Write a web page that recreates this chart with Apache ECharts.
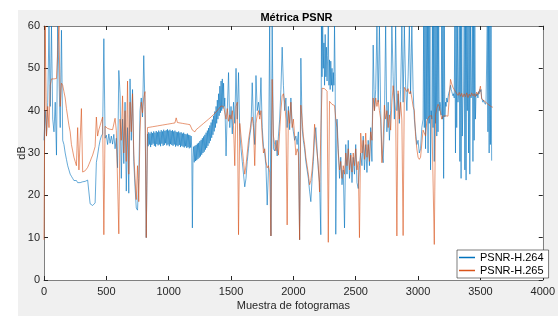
<!DOCTYPE html>
<html>
<head>
<meta charset="utf-8">
<script src="https://cdn.jsdelivr.net/npm/echarts@6/dist/echarts.min.js"></script>
<style>
html,body{margin:0;padding:0;background:#fff;}
#c{width:558px;height:316px;}
</style>
</head>
<body>
<div id="c"></div>
<script>
const xTicks = [0, 500, 1000, 1500, 2000, 2500, 3000, 3500, 4000];
const yTicks = [0, 10, 20, 30, 40, 50, 60];
const seriesNames = ['PSNR-H.264', 'PSNR-H.265'];

// ---------- PSNR-H.264 (dB), read in segments: [first frame, frame step, values] ----------
const h264_a = [33,40,34,42,60,41,60,38,35,42, 29.5,60,60,36,59,33,32,30,28.5,27, 26,25,24.5,24,23.5,23.2,23.5,23,23.3,23, 22.8,23.2,23,23.3,23,23.6,23.8,18,17.6,17.6, 17.8,18.2,27.8,29.5,31.5,33,34,34.5,57,33.5,
  34.2,32,34.5,32.3,34,32.1,34.4,31,33.5,26.5, 49.5,44,24,38,27.5,42,21,36,20.5,47.5, 33,45,28,22,17,16.5,24,40,43,38.5, 53,41,10];
const h264_b = [34.5,31.6,34.9,32.0,34.6,31.4,35.0,31.9,34.7,32.2, 35.1,31.7,34.8,31.5,35.2,32.1,34.9,31.8,35.3,32.0,
  35.0,31.6,35.4,32.2,35.1,31.7,35.5,31.9,35.2,32.3, 35.4,31.8,35.6,32.0,35.3,31.6,35.5,32.1,35.2,31.9,
  35.4,31.7,35.1,32.0,35.3,31.5,35.0,31.8,34.9,31.6, 35.1,31.9,34.8,31.4,34.9,31.7,34.6,31.5,34.8,31.3,
  34.5,31.6,34.4,31.2,34.6,31.4,34.3,31.1,34.2,31.3, 34.0,31.0, 12.3,29.0,
  31.5,27.8,31.7,28.1,31.9,28.3,32.2,28.6,32.4,28.9, 32.8,29.2,33.1,29.6,33.5,30.0,33.9,30.3,34.3,30.8,
  34.8,31.2,35.3,31.7,35.9,32.3,36.5,32.9,37.2,33.6, 37.9,34.3,38.8,35.1,39.8,36.0,41.0,37.0,42.5,38.0,
  44.0,38.8,45.8,39.5,47.0,40.0,47.5,40.5,46.5,41.0];
const h264_c = [43,29.3,40,49,36,
  41,34.5,42,37,50,38,49,35,31,28, 25,22,24,28,31,34,36,46.6,37,32, 48.3,40,42,39,47.8,36,31.6,30,27,17.7,
  26,60,10.4,60,31,30.5,33,29.3,34,38, 45,55,46,40,43,36,41,35.5,43,37,
  35,33,34,32,35,9.5,52.4,36,33,31, 28,26,24,21,18.5,24,28,34,36,31, 26,23];
const h264_d = [10.7,60,48,60,50,56,46,58,48,55, 47,53,60,46,52,45,51.7,46,50,44.5, 49,46,60,48,10.8];
const h264_e = [38,31,24,29,22.5, 26,12.3,32,25,33,24,30,23,29,25,
  32,23,21.6,27,30,27,34,26,32,25.4, 33,27,36,28,55.5,40,45,60,42,60, 40,30,27.7,38,60,35,42,33,40,60,
  48,38,60,40,44,37,45,60,42,60, 46,40,48,60,44,60,45,38,35,32,
  33,30,31,36];
const h264_f = [38,60,36,60,31,60,38,60,30,60, 37,60,26,40,38,60,36,60,28,60, 37,60,34,60,35,60,40,42,41,39,
  60,38,60,24,60,38.5,42,41,43,42, 43,44,44,45,46,45,44.5,44,43.5,44, 43,60,30,60,36,60,42,44,60,28,
  60,24,60,34,43,44,60,26,60,23.6, 60,40,60,30,60,25,60,43,44,60, 28,60,33,60,38,44,43.5,44,43,44.5,
  44,45,44.5,45,43,42.5,42,42.5,42,41.8, 41.5,42,42,60,35,60,30,60,32,60, 28.2];
const h264Segments = [[0, 10, h264_a], [830, 5, h264_b], [1450, 10, h264_c], [2220, 5, h264_d], [2350, 10, h264_e], [3040, 5, h264_f]];

// ---------- PSNR-H.265 (dB), one value every 10 frames, 0..3600 ----------
const h265_0000 = [9.5,60,34,41,36,46,47.5,47.8,47.5,47.8, 47.6,47.2,60,41,46.5,46,44.5,43,40.5,38.5, 36.5,35,32,30.5,29,28,27,36,26,25.7, 40.5,25.5,25.6,25.8,26.2,26.6,27.3,28,28.8,29.5, 30.5,31.5,38.5,34,35.5,36.5,37.5,38.5,10.7,36.3];
const h265_0500 = [36,35.8,36.2,35.6,35.9,35.5,35.8,38.2,35.3,35, 10.9,38,33,43.5,30,40,28,47,25,42, 35,44,30,24,19,27,18.5,35,42,39.5, 43,44.5,10,36.0,36.3,36.1,36.4,36.2,36.5,36.3, 36.6,36.4,36.7,36.5,36.8,36.6,36.9,36.7,37.0,36.8];
const h265_1000 = [37.1,36.9,37.2,37.0,37.3,37.1,38.3,37.2,37.4,37.1, 37.3,37.0,37.2,36.9,37.1,36.8,37.0,36.7,36.6,35.4, 35.2,35.0,35.5,35.6,36.0,36.1,36.5,36.6,37.0,37.1, 37.5,37.6,38.0,38.2,38.5,38.7,39.1,39.3,39.7,39.9, 40.4,40.6,41.1,41.3,41.0,41,38,40.5,37.5,39];
const h265_1500 = [38,40,36.5,27,41,42,10.7,37,34,31, 28,25,27,30,33,35,37,38.5,36,27, 37,39,40,38,40,34,30,31,28,26.5, 27,25.5,10.4,47.4,34,32,30.5,33,29.5,35, 40,43.5,44,42,38,13,40,37,42,36];
const h265_2000 = [38,34,29.5,31,30,9.5,41.3,38,34,32, 29,27,25,22.5,23.5,26,30,36.8,33,30, 27,20.8,35,45.3,45.0,45.2,44.8,44.6,8.9,42.2, 41.8,41.5,41.6,41.2,38,36,30,26,28,24, 27,25,30,27,31,26,29.5,25.5,30,27];
const h265_2500 = [31,26,28,10,34.7,30,33,28.5,34.7,29, 32,28,35,33,43,40,43,41,42.5,40, 38,27.7,33,41.3,38,40,36,39,35.4,42, 45.9,43,40,10.4,44.7,38,42,37.8,10.5,45.5, 45,44.5,45.2,44,44.6,43,41,40,33.9,31];
const h265_3000 = [29,28.5,29,28.8,35.4,35,34,37.5,38.2,38.7, 38.4,38.8,38.5,8.4,39,40.5,41.5,41,39.5,38, 38.7,38.5,38.8,38.6,38.7,39,47.4,46.3,45.5,45, 44.5,44.2,43.6,44.3,43.4,44.1,43.2,44,43.3,44.2, 43.1,43.9,43.4,44.2,43.5,44,43.3,44.4,43.8,44.5];
const h265_3500 = [45.8,42.8,42.6,42.3,42.2,41.8,41.6,41.3,41.1,40.9,40.8];
const h265Segments = [[0, 10, [].concat(h265_0000, h265_0500, h265_1000, h265_1500, h265_2000, h265_2500, h265_3000, h265_3500)]];

function toPoints(segments) {
  const out = [];
  segments.forEach(([start, step, vals]) => vals.forEach((v, i) => out.push([start + i * step, v])));
  return out;
}

const font = 'Liberation Sans, Arial, Helvetica, sans-serif';
const axisColor = '#808080';
const textColor = '#262626';

const chart = echarts.init(document.getElementById('c'), null, {renderer: 'canvas'});

function baseAxis(extra) {
  return Object.assign({
    type: 'value',
    axisLine: {show: true, onZero: false, lineStyle: {color: axisColor, width: 1}},
    axisTick: {show: true, inside: true, length: 4, lineStyle: {color: textColor, width: 1}},
    splitLine: {show: false}
  }, extra);
}

chart.setOption({
  animation: false,
  backgroundColor: '#ffffff',
  graphic: [
    {type: 'rect', z: -100, shape: {x: 18, y: 10, width: 540, height: 306}, style: {fill: '#f0f0f0'}},
    {type: 'text', x: 296.5, y: 17.5, z: 10, style: {text: 'Métrica PSNR', font: 'bold 11px ' + font, fill: '#000', align: 'center', verticalAlign: 'middle', textAlign: 'center', textVerticalAlign: 'middle'}}
  ],
  grid: {left: 44, top: 26, width: 504, height: 259, show: true, backgroundColor: '#ffffff', borderWidth: 0, z: 0},
  legend: {
    data: seriesNames,
    orient: 'vertical',
    left: 457, top: 250,
    itemWidth: 16, itemHeight: 1.5, itemGap: 2,
    icon: 'rect',
    padding: [2, 5, 2, 2],
    borderColor: '#262626', borderWidth: 0.6,
    backgroundColor: '#ffffff',
    textStyle: {fontSize: 11, color: '#000', fontFamily: font}
  },
  xAxis: [
    baseAxis({min: 0, max: 4000, interval: 500, position: 'bottom',
      axisLabel: {show: true, color: textColor, fontSize: 11, fontFamily: font, margin: 6,
        formatter: v => String(v)},
      name: 'Muestra de fotogramas', nameLocation: 'middle', nameGap: 20, nameMoveOverlap: false,
      nameTextStyle: {fontSize: 11, color: textColor, fontFamily: font, verticalAlign: 'top'}}),
    baseAxis({min: 0, max: 4000, interval: 500, position: 'top', axisLabel: {show: false}})
  ],
  yAxis: [
    baseAxis({min: 0, max: 60, interval: 10, position: 'left',
      axisLabel: {show: true, color: textColor, fontSize: 11, fontFamily: font, margin: 4,
        formatter: v => String(v)},
      name: 'dB', nameLocation: 'middle', nameGap: 17, nameRotate: 90, nameMoveOverlap: false,
      nameTextStyle: {fontSize: 11, color: textColor, fontFamily: font}}),
    baseAxis({min: 0, max: 60, interval: 10, position: 'right', axisLabel: {show: false}})
  ],
  series: [
    {name: seriesNames[0], type: 'line', xAxisIndex: 0, yAxisIndex: 0, showSymbol: false, symbol: 'none',
      color: '#0072BD', lineStyle: {width: 0.6, color: '#0072BD'}, clip: true, z: 2,
      data: toPoints(h264Segments)},
    {name: seriesNames[1], type: 'line', xAxisIndex: 0, yAxisIndex: 0, showSymbol: false, symbol: 'none',
      color: '#D95319', lineStyle: {width: 0.6, color: '#D95319'}, clip: true, z: 3,
      data: toPoints(h265Segments)}
  ]
});
</script>
</body>
</html>
